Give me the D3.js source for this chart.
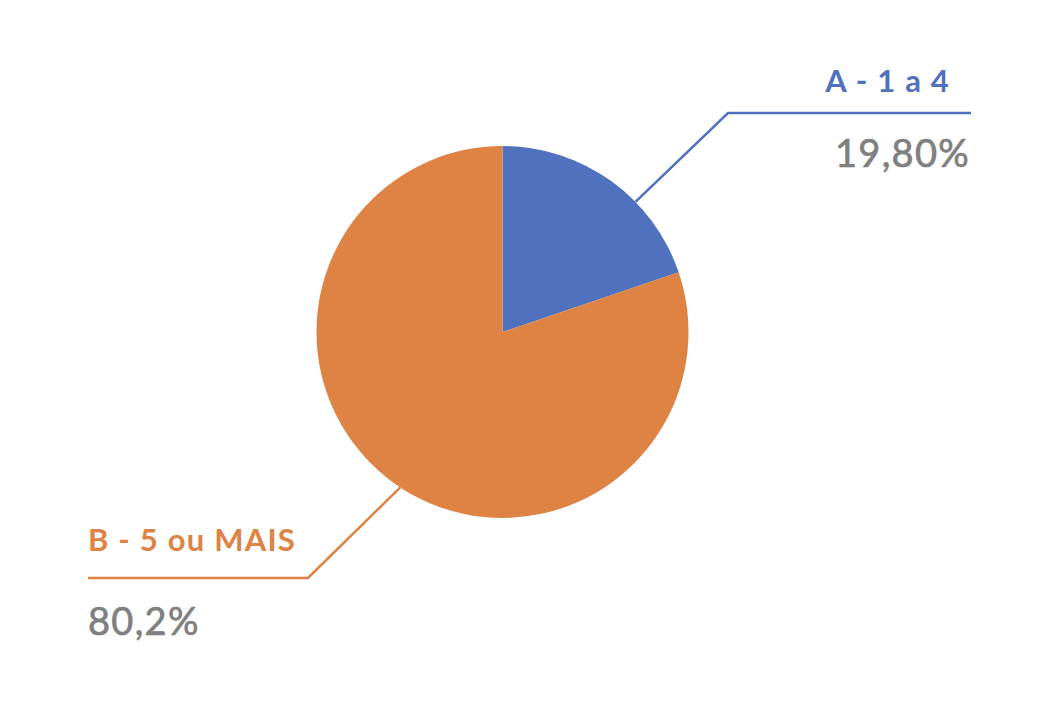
<!DOCTYPE html>
<html>
<head>
<meta charset="utf-8">
<script src="https://cdn.jsdelivr.net/npm/d3@7"></script>
<style>
  html, body { margin: 0; padding: 0; background: #fff; }
  text { font-family: Lato, "Open Sans", sans-serif; }
</style>
</head>
<body>
<div id="chart"></div>
<script>
var categories = ["A - 1 a 4", "B - 5 ou MAIS"];
var values = [19.8, 80.2];
var valueLabels = ["19,80%", "80,2%"];
var colors = ["#4f71be", "#de8344"];

var width = 1058,
    height = 707;

var cx = 502.5, cy = 332, radius = 186;

var svg = d3.select("#chart").append("svg")
    .attr("width", width)
    .attr("height", height);

var pie = d3.pie().sort(null).value(function(d) { return d; });
var arc = d3.arc().innerRadius(0).outerRadius(radius);
var arcs = pie(values);

var g = svg.append("g").attr("transform", "translate(" + cx + "," + cy + ")");

g.selectAll("path.slice")
    .data(arcs)
    .enter().append("path")
    .attr("class", "slice")
    .attr("d", arc)
    .attr("fill", function(d, i) { return colors[i]; });

// label layout: elbow point, end of horizontal line, angle tweak
var layout = [
    { elbow: [728, 113], end: 971, tweak: 10, nameX: 950, nameY: 92, valX: 970, valY: 167, anchor: "end" },
    { elbow: [308, 578], end: 88, tweak: -2.3, nameX: 88, nameY: 551, valX: 88, valY: 635, anchor: "start" }
];

arcs.forEach(function(d, i) {
    var L = layout[i];
    var a = (d.startAngle + d.endAngle) / 2 + L.tweak * Math.PI / 180;
    var sx = cx + radius * Math.sin(a),
        sy = cy - radius * Math.cos(a);

    svg.append("polyline")
        .attr("points", [[sx, sy], L.elbow, [L.end, L.elbow[1]]].map(function(p) { return p.join(","); }).join(" "))
        .attr("fill", "none")
        .attr("stroke", colors[i])
        .attr("stroke-width", 2.5);

    svg.append("text")
        .attr("x", L.nameX)
        .attr("y", L.nameY)
        .attr("text-anchor", L.anchor)
        .attr("fill", colors[i])
        .style("font-size", "31px")
        .style("font-weight", "bold")
        .style("letter-spacing", "1.2px")
        .text(categories[i]);

    svg.append("text")
        .attr("x", L.valX)
        .attr("y", L.valY)
        .attr("text-anchor", L.anchor)
        .attr("fill", "#808080")
        .attr("stroke", "#808080")
        .attr("stroke-width", 0.7)
        .style("font-size", "38px")
        .style("letter-spacing", "1.3px")
        .text(valueLabels[i]);
});
</script>
</body>
</html>
